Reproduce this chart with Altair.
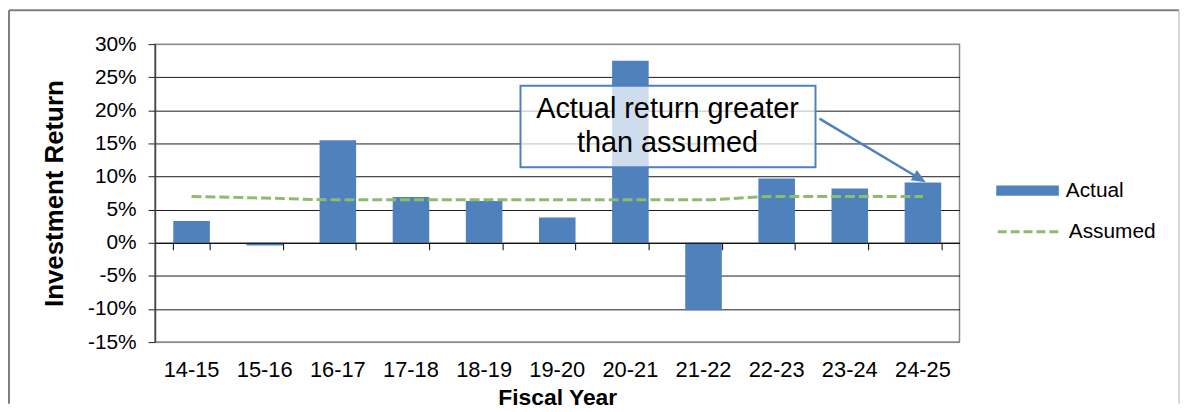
import altair as alt
import pandas as pd

# ---- data ----
years = ["14-15", "15-16", "16-17", "17-18", "18-19", "19-20",
         "20-21", "21-22", "22-23", "23-24", "24-25"]
actual = [3.3, -0.4, 15.5, 6.9, 6.3, 3.8, 27.5, -10.2, 9.7, 8.2, 9.1]
assumed = [7.0, 6.75, 6.5, 6.5, 6.5, 6.5, 6.5, 6.5, 7.0, 7.0, 7.0]
y_ticks = [-15, -10, -5, 0, 5, 10, 15, 20, 25, 30]
series_names = ["Actual", "Assumed"]
note_text = "Actual return greater\nthan assumed"

df = pd.DataFrame({
    "year": years,
    "actual": actual,
    "assumed": assumed,
    "s1": series_names[0],
    "s2": series_names[1],
})
one = pd.DataFrame({"k": [0]})

FONT = "Liberation Sans"
BLUE = "#4F81BD"
GREEN = "#8DBB6F"
W, H = 810, 300

xscale = alt.Scale(paddingInner=0.5, paddingOuter=0.25)
yscale = alt.Scale(domain=[-15, 30], nice=False, zero=False)

yaxis = alt.Axis(
    values=y_ticks, labelExpr="datum.value + '%'", title="Investment Return",
    grid=True,
    gridColor={"condition": {"test": "datum.value === 30 || datum.value === -15",
                             "value": "#8a8a8a"}, "value": "#1a1a1a"},
    gridWidth=1, tickSize=7, tickColor="#222", domainColor="#444", domainWidth=1.5,
    labelFontSize=21, labelPadding=12, labelColor="#000",
    titleFontSize=26, titleFontWeight="bold", titlePadding=20, titleColor="#000",
)

x_main = alt.X("year:N", sort=years, scale=xscale,
               axis=alt.Axis(orient="bottom", title="Fiscal Year", labelAngle=0,
                             ticks=False, domain=False, grid=False,
                             labelFontSize=22, labelPadding=18, labelColor="#000",
                             titleFontSize=23, titleFontWeight="bold",
                             titlePadding=6, titleColor="#000"))
x_zero = alt.X("year:N", sort=years, scale=xscale,
               axis=alt.Axis(orient="bottom", offset=-100, labels=False, title=None,
                             ticks=True, tickBand="extent", tickSize=7, tickColor="#000",
                             domain=True, domainColor="#000", domainWidth=1.2,
                             grid=False, zindex=1))

base = alt.Chart(df)

bars = base.mark_bar().encode(
    x=x_main,
    y=alt.Y("actual:Q", scale=yscale, axis=yaxis),
    fill=alt.Fill("s1:N", scale=alt.Scale(domain=[series_names[0]], range=[BLUE]),
                  legend=alt.Legend(title=None, orient="none", legendX=847, legendY=116,
                                    symbolType="M-1,-0.16H1V0.16H-1Z", symbolSize=3969,
                                    symbolStrokeWidth=0, labelFontSize=21, labelOffset=7,
                                    labelColor="#000", padding=0)),
)

line = base.mark_line(strokeWidth=3, strokeDash=[10, 4], interpolate="monotone").encode(
    x=x_zero,
    y=alt.Y("assumed:Q", scale=yscale, axis=yaxis),
    stroke=alt.Stroke("s2:N", scale=alt.Scale(domain=[series_names[1]], range=[GREEN]),
                      legend=alt.Legend(title=None, orient="none", legendX=847, legendY=156,
                                        symbolType="stroke", symbolSize=3969,
                                        symbolStrokeWidth=3, symbolDash=[9, 4],
                                        labelFontSize=21, labelOffset=7,
                                        labelColor="#000", padding=0)),
)

note_box = alt.Chart(one).mark_rect(
    fill="white", fillOpacity=0.72, stroke=BLUE, strokeWidth=2
).encode(x=alt.value(368), x2=alt.value(665), y=alt.value(42), y2=alt.value(124))

note = alt.Chart(one).mark_text(
    font=FONT, fontSize=29, align="center", baseline="alphabetic",
    lineHeight=35, lineBreak="\n", color="#000"
).encode(x=alt.value(516), y=alt.value(74), text=alt.value(note_text))

arrow_line = alt.Chart(one).mark_rule(color=BLUE, strokeWidth=2.5).encode(
    x=alt.value(669), y=alt.value(75), x2=alt.value(766), y2=alt.value(133))

arrow_head = alt.Chart(one).mark_point(
    shape="M0,0L-2,-0.86L-2,0.86Z", filled=True, size=196, angle=31,
    color=BLUE, opacity=1
).encode(x=alt.value(776), y=alt.value(139))

frame_left = alt.Chart(one).mark_rule(color="#7f7f7f", strokeWidth=2).encode(
    x=alt.value(-147), y=alt.value(-34), y2=alt.value(362))
frame_top = alt.Chart(one).mark_rule(color="#7f7f7f", strokeWidth=2).encode(
    x=alt.value(-147), x2=alt.value(1031), y=alt.value(-34))
frame_right = alt.Chart(one).mark_rule(color="#b0b0b0", strokeWidth=1).encode(
    x=alt.value(1031), y=alt.value(-34), y2=alt.value(362))

chart = alt.layer(
    bars, line, note_box, note, arrow_line, arrow_head,
    frame_left, frame_top, frame_right
).resolve_axis(x="independent").resolve_legend(fill="independent", stroke="independent").properties(
    width=W, height=H, padding=0
).configure(
    font=FONT, background="white"
).configure_view(
    stroke="#868686", strokeWidth=1.5
)

chart.save("out.html", embed_options={"renderer": "svg", "actions": False})
